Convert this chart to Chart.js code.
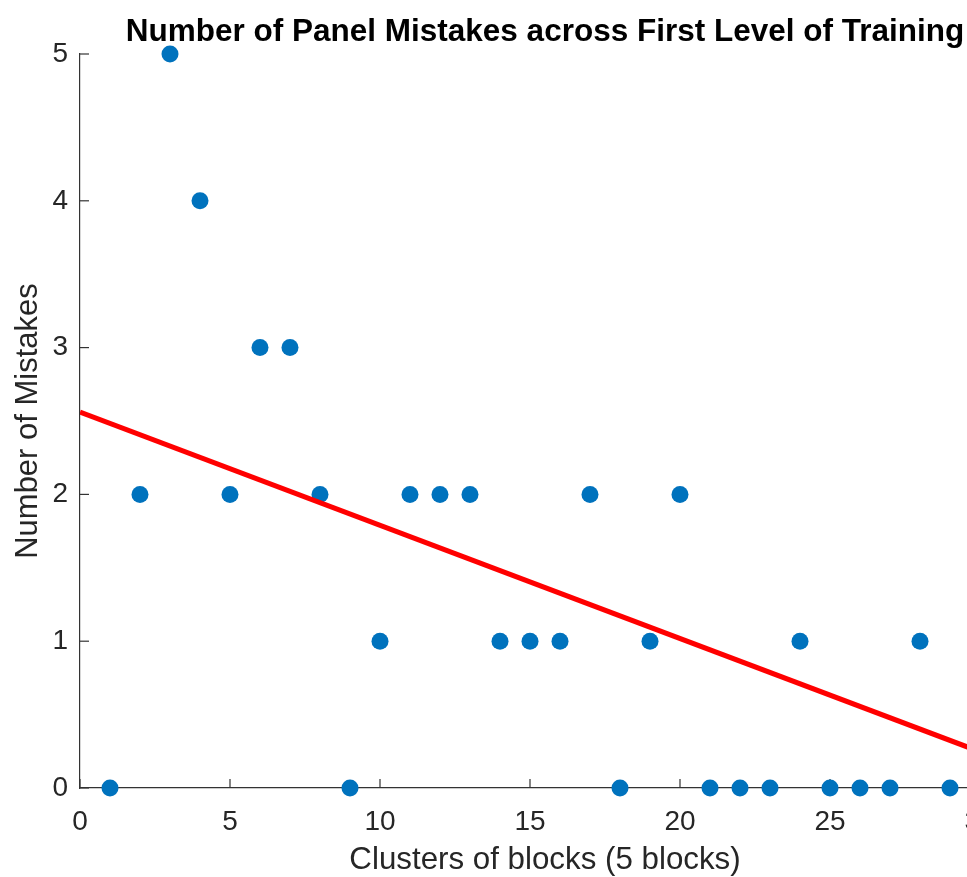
<!DOCTYPE html>
<html>
<head>
<meta charset="utf-8">
<title>Number of Panel Mistakes across First Level of Training</title>
<script src="https://cdn.jsdelivr.net/npm/chart.js@4/dist/chart.umd.min.js"></script>
<style>
  html, body { margin: 0; padding: 0; background: #ffffff; width: 967px; height: 877px; overflow: hidden; }
  #wrap { position: relative; width: 1030px; height: 877px; }
</style>
</head>
<body>
<div id="wrap"><canvas id="chart"></canvas></div>
<script>
// Mistakes per cluster of 5 blocks
const clusters = [1, 2, 3, 4, 5, 6, 7, 8, 9, 10, 11, 12, 13, 14, 15, 16, 17, 18, 19, 20, 21, 22, 23, 24, 25, 26, 27, 28, 29];
const mistakes = [0, 2, 5, 4, 2, 3, 3, 2, 0, 1, 2, 2, 2, 1, 1, 1, 2, 0, 1, 2, 0, 0, 0, 1, 0, 0, 0, 1, 0];

// Linear trend line end points
const trendX = [0, 31];
const trendY = [2.56, 0.17];

const xTickValues = [0, 5, 10, 15, 20, 25, 30];
const yTickValues = [0, 1, 2, 3, 4, 5];

const chartTitle = 'Number of Panel Mistakes across First Level of Training';
const xTitle = 'Clusters of blocks (5 blocks)';
const yTitle = 'Number of Mistakes';

const AXIS_COLOR = '#333333';
const TEXT_COLOR = '#262626';
const FONT = '"Liberation Sans", Arial, Helvetica, sans-serif';

// Short tick marks pointing into the plot area
const inwardTicks = {
  id: 'inwardTicks',
  beforeDatasetsDraw(chart) {
    const { ctx, chartArea: a, scales: { x, y } } = chart;
    ctx.save();
    ctx.strokeStyle = AXIS_COLOR;
    ctx.lineWidth = 1.2;
    x.ticks.forEach(t => {
      const px = x.getPixelForValue(t.value);
      ctx.beginPath();
      ctx.moveTo(px, a.bottom);
      ctx.lineTo(px, a.bottom - 9);
      ctx.stroke();
    });
    y.ticks.forEach(t => {
      const py = y.getPixelForValue(t.value);
      ctx.beginPath();
      ctx.moveTo(a.left, py);
      ctx.lineTo(a.left + 9, py);
      ctx.stroke();
    });
    ctx.restore();
  }
};

// Bold heading centred over the plot area
const headline = {
  id: 'headline',
  afterDraw(chart) {
    const { ctx, chartArea: a } = chart;
    ctx.save();
    ctx.fillStyle = '#000000';
    ctx.font = 'bold 31.5px ' + FONT;
    ctx.textAlign = 'center';
    ctx.textBaseline = 'alphabetic';
    ctx.fillText(chartTitle, (a.left + a.right) / 2, 41);
    ctx.restore();
  }
};

const scatterPoints = clusters.map((c, i) => ({ x: c, y: mistakes[i] }));
const trendPoints = trendX.map((v, i) => ({ x: v, y: trendY[i] }));

const noGrid = { display: true, drawOnChartArea: false, drawTicks: false, color: 'rgba(0,0,0,0)' };

new Chart(document.getElementById('chart'), {
  type: 'scatter',
  data: {
    datasets: [
      {
        label: 'Mistakes',
        data: scatterPoints,
        backgroundColor: '#0072BD',
        borderWidth: 0,
        pointRadius: 8.5,
        pointHoverRadius: 8.5,
        clip: false,
        order: 2
      },
      {
        type: 'line',
        label: 'Trend',
        data: trendPoints,
        borderColor: '#FF0000',
        borderWidth: 5,
        pointRadius: 0,
        fill: false,
        order: 1
      }
    ]
  },
  plugins: [inwardTicks, headline],
  options: {
    responsive: true,
    maintainAspectRatio: false,
    animation: false,
    layout: { padding: { top: 54, right: 20, bottom: 0, left: 0 } },
    plugins: {
      legend: { display: false },
      title: { display: false },
      tooltip: { enabled: false }
    },
    scales: {
      x: {
        type: 'linear',
        min: 0,
        max: 31,
        afterBuildTicks: s => { s.ticks = xTickValues.map(v => ({ value: v })); },
        afterFit: s => { s.height = 89; },
        grid: noGrid,
        border: { display: true, color: AXIS_COLOR, width: 1.2 },
        ticks: {
          padding: 17,
          color: TEXT_COLOR,
          font: { family: FONT, size: 28 },
          maxRotation: 0
        },
        title: {
          display: true,
          text: xTitle,
          color: TEXT_COLOR,
          font: { family: FONT, size: 31.3 },
          padding: { top: 0, bottom: -2 }
        }
      },
      y: {
        type: 'linear',
        min: 0,
        max: 5,
        afterBuildTicks: s => { s.ticks = yTickValues.map(v => ({ value: v })); },
        afterFit: s => { s.width = 80; },
        grid: noGrid,
        border: { display: true, color: AXIS_COLOR, width: 1.2 },
        ticks: {
          padding: 12,
          color: TEXT_COLOR,
          font: { family: FONT, size: 28 }
        },
        title: {
          display: true,
          text: yTitle,
          color: TEXT_COLOR,
          font: { family: FONT, size: 31 },
          padding: { top: 10, bottom: 0 }
        }
      }
    }
  }
});
</script>
</body>
</html>
